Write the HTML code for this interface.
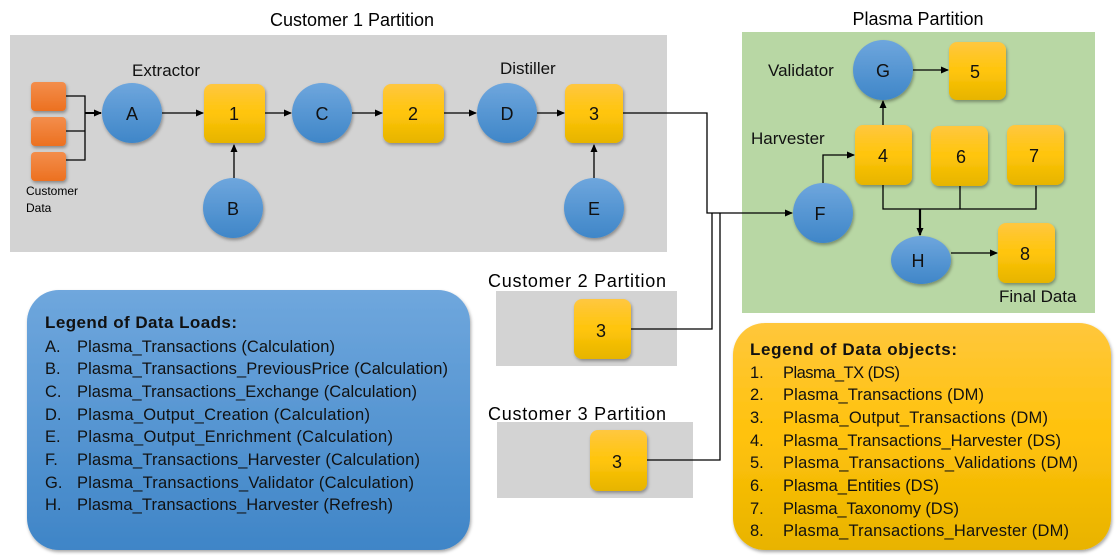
<!DOCTYPE html>
<html><head><meta charset="utf-8"><style>
html,body{margin:0;padding:0;background:#fff;}
svg{display:block;font-family:"Liberation Sans",sans-serif;}
</style></head><body>
<svg width="1116" height="555" viewBox="0 0 1116 555" xmlns="http://www.w3.org/2000/svg">
<defs>
<linearGradient id="yel" x1="0" y1="0" x2="0" y2="1"><stop offset="0" stop-color="#ffc740"/><stop offset="0.5" stop-color="#ffc50a"/><stop offset="1" stop-color="#e6b400"/></linearGradient>
<linearGradient id="blu" x1="0" y1="0" x2="0" y2="1"><stop offset="0" stop-color="#6ea6dd"/><stop offset="1" stop-color="#3f86c8"/></linearGradient>
<linearGradient id="org" x1="0" y1="0" x2="0" y2="1"><stop offset="0" stop-color="#f38d4c"/><stop offset="1" stop-color="#ec7020"/></linearGradient>
<linearGradient id="lblu" x1="0" y1="0" x2="0" y2="1"><stop offset="0" stop-color="#6fa7dd"/><stop offset="1" stop-color="#3f85c7"/></linearGradient>
<linearGradient id="lyel" x1="0" y1="0" x2="0" y2="1"><stop offset="0" stop-color="#ffc73c"/><stop offset="0.5" stop-color="#ffc20a"/><stop offset="1" stop-color="#e8b300"/></linearGradient>
<marker id="ar" markerWidth="8" markerHeight="8" refX="7" refY="4" orient="auto" markerUnits="userSpaceOnUse"><path d="M0,0.5 L8,4 L0,7.5 z" fill="#000"/></marker>
<filter id="sh" x="-20%" y="-20%" width="140%" height="140%"><feDropShadow dx="1" dy="2" stdDeviation="1.5" flood-color="#000" flood-opacity="0.35"/></filter>
</defs>

<rect x="10" y="35" width="657" height="217" fill="#d3d3d3"/>
<text x="352" y="26" font-size="18" text-anchor="middle">Customer 1 Partition</text>
<rect x="742" y="32" width="353" height="281" fill="#b8d7a4"/>
<text x="918" y="25" font-size="18" text-anchor="middle">Plasma Partition</text>
<rect x="496" y="291" width="181" height="75" fill="#d3d3d3"/>
<text x="488" y="287" font-size="18" textLength="178">Customer 2 Partition</text>
<rect x="497" y="422" width="196" height="76" fill="#d3d3d3"/>
<text x="488" y="420" font-size="18" textLength="178">Customer 3 Partition</text>

<g stroke="#000" stroke-width="1.3" fill="none">
<path d="M66,96 H85 V160 H66 M66,131 H85"/>
<path d="M85,113 H101" stroke-width="2" marker-end="url(#ar)"/>
<path d="M162,113 H203" marker-end="url(#ar)"/>
<path d="M265,113 H291" marker-end="url(#ar)"/>
<path d="M352,113 H382" marker-end="url(#ar)"/>
<path d="M444,113 H476" marker-end="url(#ar)"/>
<path d="M537,113 H564" marker-end="url(#ar)"/>
<path d="M234,178 V145" marker-end="url(#ar)"/>
<path d="M594,178 V145" marker-end="url(#ar)"/>
<path d="M623,113 H707 V213 H792" marker-end="url(#ar)"/>
<path d="M631,329 H712 V213"/>
<path d="M647,460 H720 V213"/>
<path d="M823,183 V155 H854" marker-end="url(#ar)"/>
<path d="M883,125 V101" marker-end="url(#ar)"/>
<path d="M913,70 H948" marker-end="url(#ar)"/>
<path d="M883,185 V209 H960 V186 M960,209 H1036 V186"/>
<path d="M920,209 V235" stroke-width="2.2" marker-end="url(#ar)"/>
<path d="M951,253 H997" marker-end="url(#ar)"/>
</g>

<g fill="url(#org)" filter="url(#sh)">
<rect x="31" y="82" width="35" height="29" rx="4"/>
<rect x="31" y="117" width="35" height="29" rx="4"/>
<rect x="31" y="152" width="35" height="29" rx="4"/>
</g>
<text x="26" y="195" font-size="12">Customer</text>
<text x="26" y="212" font-size="12">Data</text>

<g fill="url(#blu)" filter="url(#sh)">
<circle cx="132" cy="113" r="30"/>
<circle cx="322" cy="113" r="30"/>
<circle cx="507" cy="113" r="30"/>
<circle cx="233" cy="208" r="30"/>
<circle cx="594" cy="208" r="30"/>
<circle cx="883" cy="70" r="30"/>
<circle cx="823" cy="213" r="30"/>
<ellipse cx="921" cy="260" rx="30" ry="24"/>
</g>
<g font-size="18" text-anchor="middle" fill="#111">
<text x="132" y="120">A</text><text x="322" y="120">C</text><text x="507" y="120">D</text>
<text x="233" y="215">B</text><text x="594" y="215">E</text><text x="883" y="77">G</text>
<text x="820" y="220">F</text><text x="918" y="267">H</text>
</g>

<g fill="url(#yel)" filter="url(#sh)">
<rect x="204" y="84" width="61" height="59" rx="8"/>
<rect x="383" y="84" width="61" height="59" rx="8"/>
<rect x="565" y="84" width="58" height="59" rx="8"/>
<rect x="949" y="42" width="57" height="58" rx="8"/>
<rect x="855" y="125" width="57" height="60" rx="8"/>
<rect x="931" y="126" width="57" height="60" rx="8"/>
<rect x="1007" y="125" width="57" height="60" rx="8"/>
<rect x="998" y="223" width="57" height="60" rx="8"/>
<rect x="574" y="299" width="57" height="60" rx="8"/>
<rect x="590" y="430" width="57" height="61" rx="8"/>
</g>
<g font-size="18" text-anchor="middle" fill="#111">
<text x="234" y="120">1</text><text x="413" y="120">2</text><text x="594" y="120">3</text>
<text x="975" y="78">5</text><text x="883" y="162">4</text><text x="961" y="163">6</text>
<text x="1034" y="162">7</text><text x="1025" y="260">8</text>
<text x="601" y="337">3</text><text x="617" y="468">3</text>
</g>

<g font-size="17" fill="#111">
<text x="132" y="76">Extractor</text>
<text x="500" y="74">Distiller</text>
<text x="768" y="76">Validator</text>
<text x="751" y="144">Harvester</text>
<text x="999" y="302">Final Data</text>
</g>

<rect x="27" y="290" width="443" height="260" rx="32" fill="url(#lblu)" filter="url(#sh)"/>
<g font-size="16.5" fill="#111">
<text x="45" y="328" font-weight="bold" font-size="17" textLength="192">Legend of Data Loads:</text>
<text x="45" y="352">A.</text><text x="77" y="352" textLength="258">Plasma_Transactions (Calculation)</text>
<text x="45" y="374">B.</text><text x="77" y="374" textLength="371">Plasma_Transactions_PreviousPrice (Calculation)</text>
<text x="45" y="397">C.</text><text x="77" y="397" textLength="340">Plasma_Transactions_Exchange (Calculation)</text>
<text x="45" y="420">D.</text><text x="77" y="420" textLength="293">Plasma_Output_Creation (Calculation)</text>
<text x="45" y="442">E.</text><text x="77" y="442" textLength="316">Plasma_Output_Enrichment (Calculation)</text>
<text x="45" y="465">F.</text><text x="77" y="465" textLength="343">Plasma_Transactions_Harvester (Calculation)</text>
<text x="45" y="488">G.</text><text x="77" y="488" textLength="337">Plasma_Transactions_Validator (Calculation)</text>
<text x="45" y="510">H.</text><text x="77" y="510" textLength="316">Plasma_Transactions_Harvester (Refresh)</text>
</g>

<rect x="733" y="323" width="378" height="227" rx="32" fill="url(#lyel)" filter="url(#sh)"/>
<g font-size="16.5" fill="#111">
<text x="750" y="355" font-weight="bold" font-size="17" textLength="207">Legend of Data objects:</text>
<text x="750" y="378">1.</text><text x="783" y="378" textLength="117">Plasma_TX (DS)</text>
<text x="750" y="400">2.</text><text x="783" y="400" textLength="201">Plasma_Transactions (DM)</text>
<text x="750" y="423">3.</text><text x="783" y="423" textLength="265">Plasma_Output_Transactions (DM)</text>
<text x="750" y="446">4.</text><text x="783" y="446" textLength="278">Plasma_Transactions_Harvester (DS)</text>
<text x="750" y="468">5.</text><text x="783" y="468" textLength="295">Plasma_Transactions_Validations (DM)</text>
<text x="750" y="491">6.</text><text x="783" y="491" textLength="156">Plasma_Entities (DS)</text>
<text x="750" y="514">7.</text><text x="783" y="514" textLength="176">Plasma_Taxonomy (DS)</text>
<text x="750" y="536">8.</text><text x="783" y="536" textLength="286">Plasma_Transactions_Harvester (DM)</text>
</g>
</svg>
</body></html>
